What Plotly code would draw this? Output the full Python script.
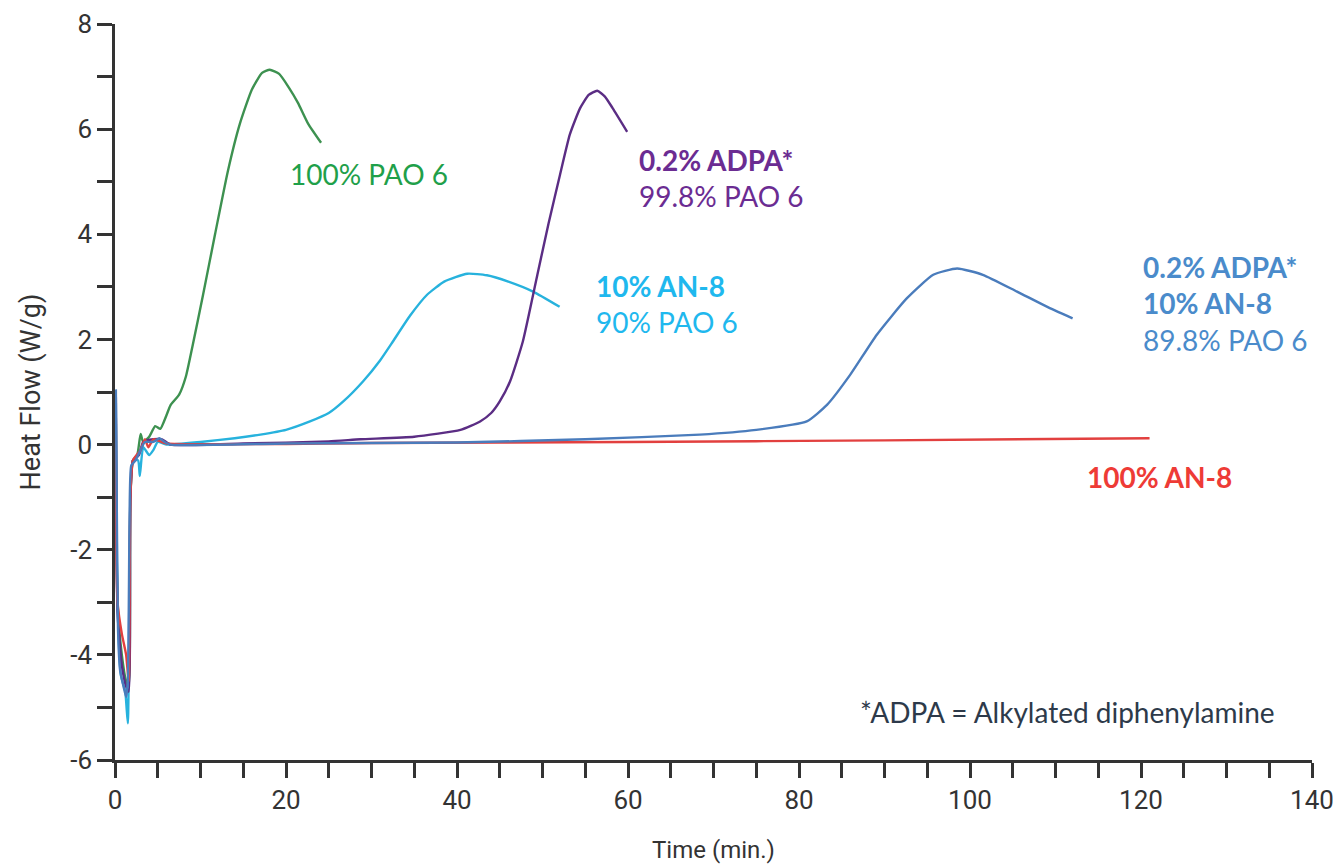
import plotly.graph_objects as go

# Time (min.) and Heat Flow (W/g) for each sample
pao6_x = [0.1, 0.3, 0.8, 1.3, 1.6, 1.8, 2.1, 2.6, 3.0, 3.3, 4.0, 4.7, 5.3, 6.0, 6.5, 7.5, 8.3, 9.1, 10.3, 11.7, 13.2, 14.6, 16.0, 17.2, 18.1, 19.2, 20.3, 21.4, 22.6, 24.1]
pao6_y = [0.4, -3.0, -4.0, -4.5, -4.6, -1.0, -0.3, -0.2, 0.2, 0.05, 0.15, 0.35, 0.3, 0.55, 0.75, 0.95, 1.3, 1.9, 2.85, 4.0, 5.2, 6.1, 6.75, 7.07, 7.13, 7.05, 6.8, 6.5, 6.1, 5.74]

adpa_x = [0.1, 0.3, 0.8, 1.3, 1.6, 1.8, 2.1, 2.8, 3.3, 4.5, 5.5, 6.5, 15, 25, 28.7, 35, 40.4, 42.7, 44.0, 45.0, 46.2, 47.7, 49.4, 50.7, 52.0, 53.2, 54.4, 55.4, 56.4, 57.3, 58.2, 59.9]
adpa_y = [0.9, -3.2, -4.2, -4.6, -4.7, -1.0, -0.3, -0.2, 0.05, 0.1, 0.1, 0.0, 0.02, 0.06, 0.1, 0.15, 0.28, 0.44, 0.6, 0.82, 1.2, 1.96, 3.23, 4.2, 5.1, 5.9, 6.4, 6.65, 6.73, 6.62, 6.4, 5.95]

an10_x = [0.1, 0.3, 0.7, 1.2, 1.5, 1.8, 2.1, 2.7, 2.9, 3.3, 4.0, 4.5, 5.0, 6.0, 10, 14, 17, 20, 22.8, 25, 26.7, 29, 31, 32.5, 34.5, 36.5, 38.5, 41.2, 43.5, 46, 48.9, 52]
an10_y = [0.8, -3.0, -4.4, -4.7, -5.3, -1.0, -0.3, -0.3, -0.6, -0.05, -0.2, -0.1, 0.05, 0.0, 0.05, 0.12, 0.19, 0.28, 0.44, 0.6, 0.82, 1.2, 1.6, 1.96, 2.45, 2.85, 3.1, 3.25, 3.22, 3.1, 2.91, 2.62]

mix_x = [0.1, 0.2, 0.35, 0.6, 1.0, 1.3, 1.5, 1.7, 1.9, 2.4, 3.0, 3.5, 4.5, 5.2, 5.8, 6.5, 20, 40, 55, 68.4, 75, 80.9, 83.3, 86.0, 89.1, 92.6, 95.7, 98.5, 101.5, 105.5, 109.4, 112]
mix_y = [1.05, -1.0, -3.5, -4.3, -4.6, -4.8, -4.5, -1.5, -0.4, -0.3, -0.1, 0.05, 0.05, 0.12, 0.05, 0.0, 0.02, 0.04, 0.1, 0.19, 0.28, 0.44, 0.76, 1.33, 2.09, 2.78, 3.23, 3.35, 3.23, 2.91, 2.59, 2.4]

an8_x = [0.1, 0.3, 0.8, 1.3, 1.6, 1.8, 2.1, 3.0, 3.5, 3.9, 4.5, 6.0, 30, 60, 90, 121]
an8_y = [0.5, -3.0, -3.6, -4.0, -4.5, -1.0, -0.3, -0.1, 0.1, -0.05, 0.1, 0.02, 0.03, 0.05, 0.08, 0.12]

x_ticks = [0, 20, 40, 60, 80, 100, 120, 140]
x_labels = ["0", "20", "40", "60", "80", "100", "120", "140"]
y_ticks = [-6, -4, -2, 0, 2, 4, 6, 8]
y_labels = ["-6", "-4", "-2", "0", "2", "4", "6", "8"]

fig = go.Figure()
series = [
    (pao6_x, pao6_y, "#3d9150", "100% PAO 6"),
    (an10_x, an10_y, "#27b2dd", "10% AN-8 / 90% PAO 6"),
    (adpa_x, adpa_y, "#5b2d84", "0.2% ADPA / 99.8% PAO 6"),
    (an8_x, an8_y, "#e2403f", "100% AN-8"),
    (mix_x, mix_y, "#4a7cbc", "0.2% ADPA / 10% AN-8 / 89.8% PAO 6"),
]
for xs, ys, col, name in series:
    fig.add_trace(go.Scatter(x=xs, y=ys, mode="lines", name=name,
                             line=dict(color=col, width=2.4, shape="spline", smoothing=0.5)))

lab_font = "Lato"
annots = [
    (20.2, 5.14, "100% PAO 6", "#1fa04a"),
    (61.1, 5.07, "<b>0.2% ADPA*</b><br>99.8% PAO 6", "#6b2c92"),
    (56.0, 2.68, "<b>10% AN-8</b><br>90% PAO 6", "#1fb8ee"),
    (120.0, 2.68, "<b>0.2% ADPA*</b><br><b>10% AN-8</b><br>89.8% PAO 6", "#4a8bcb"),
    (113.5, -0.61, "<b>100% AN-8</b>", "#ee3b36"),
    (86.9, -5.08, "*ADPA = Alkylated diphenylamine", "#2d3a4a"),
]
for ax, ay, txt, col in annots:
    fig.add_annotation(x=ax, y=ay, xref="x", yref="y", text=txt, showarrow=False,
                       xanchor="left", yanchor="middle", align="left",
                       font=dict(family=lab_font, size=28, color=col))

tick_font = dict(family="Roboto", size=26, color="#333333")
fig.update_xaxes(range=[0, 140], tickvals=x_ticks, ticktext=x_labels, ticks="outside", ticklen=15,
                 tickwidth=2.5, tickcolor="#333333", showline=True, linecolor="#333333", linewidth=2.5,
                 showgrid=False, zeroline=False, tickfont=tick_font, automargin=False,
                 minor=dict(dtick=5, tick0=0, ticks="outside", ticklen=15, tickwidth=2.5,
                            tickcolor="#333333", showgrid=False),
                 title=dict(text="Time (min.)", font=dict(family="Roboto", size=24, color="#333333"),
                            standoff=28))
fig.update_yaxes(range=[-6, 8], tickvals=y_ticks, ticktext=y_labels, ticks="outside", ticklen=15,
                 tickwidth=2.5, tickcolor="#333333", showline=True, linecolor="#333333", linewidth=2.5,
                 showgrid=False, zeroline=False, tickfont=tick_font, automargin=False,
                 minor=dict(dtick=1, tick0=0, ticks="outside", ticklen=15, tickwidth=2.5,
                            tickcolor="#333333", showgrid=False),
                 title=dict(text="Heat Flow (W/g)", font=dict(family="Roboto", size=27, color="#333333"),
                            standoff=22))
fig.update_layout(width=1333, height=856, showlegend=False,
                  paper_bgcolor="white", plot_bgcolor="white",
                  margin=dict(l=107, r=29, t=16, b=104))
fig.write_html("out.html")
